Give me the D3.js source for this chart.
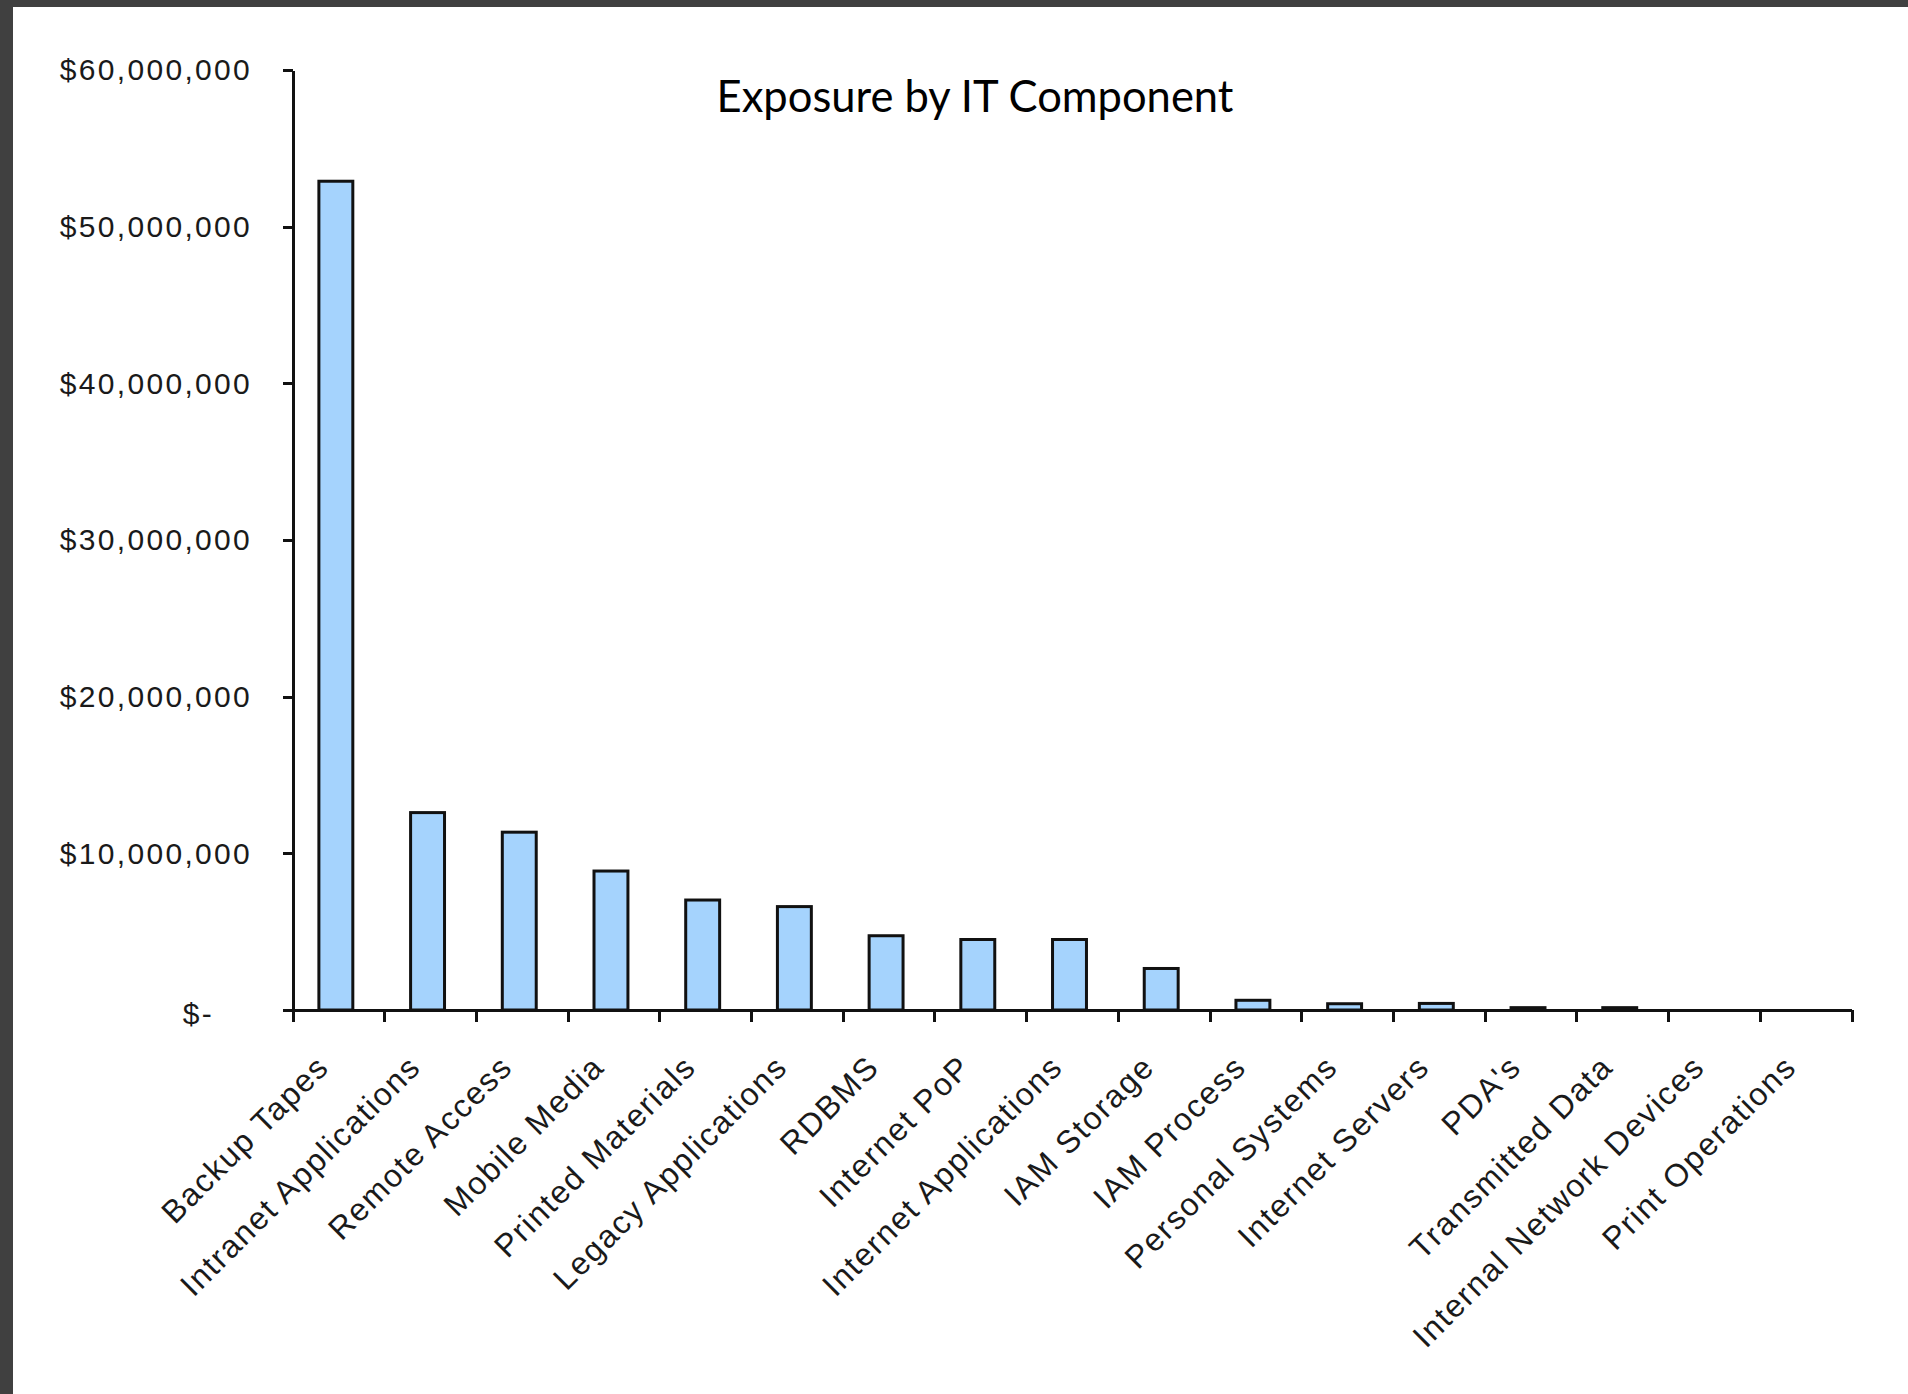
<!DOCTYPE html>
<html>
<head>
<meta charset="utf-8">
<script src="https://cdn.jsdelivr.net/npm/d3@7"></script>
<style>
  html, body { margin: 0; padding: 0; background: #fff; }
  #chart { width: 1908px; height: 1394px; }
  .axis path, .axis line { stroke: #111; stroke-width: 3px; shape-rendering: crispEdges; }
  .ytick text { font-family: "Liberation Sans", Arial, sans-serif; font-size: 30px; letter-spacing: 2.3px; fill: #1a1a1a; }
  .xlabel { font-family: "Liberation Sans", Arial, sans-serif; font-size: 32px; letter-spacing: 1.7px; fill: #1a1a1a; }
  .title { font-family: Lato, "Open Sans", sans-serif; font-size: 43.5px; fill: #000; }
</style>
</head>
<body>
<div id="chart"></div>
<script>
// categories along the x axis
var categories = ["Backup Tapes", "Intranet Applications", "Remote Access", "Mobile Media",
  "Printed Materials", "Legacy Applications", "RDBMS", "Internet PoP", "Internet Applications",
  "IAM Storage", "IAM Process", "Personal Systems", "Internet Servers", "PDA's",
  "Transmitted Data", "Internal Network Devices", "Print Operations"];

// exposure in dollars
var exposure = [52900000, 12600000, 11350000, 8870000, 7020000, 6600000, 4740000, 4500000,
  4500000, 2650000, 620000, 400000, 420000, 150000, 150000, 0, 0];

var yTicks = [0, 10000000, 20000000, 30000000, 40000000, 50000000, 60000000];

var W = 1908, H = 1394;
var margin = { left: 293, right: 56, top: 70, bottom: 384 };
var width = W - margin.left - margin.right,
    height = H - margin.top - margin.bottom;

var svg = d3.select("#chart").append("svg")
  .attr("width", W)
  .attr("height", H);

// dark frame at the top and left of the screenshot
svg.append("rect").attr("x", 0).attr("y", 0).attr("width", W).attr("height", 7).attr("fill", "#404040");
svg.append("rect").attr("x", 0).attr("y", 0).attr("width", 13).attr("height", H).attr("fill", "#404040");

var g = svg.append("g")
  .attr("transform", "translate(" + margin.left + "," + margin.top + ")");

var x = d3.scaleBand()
  .domain(categories)
  .range([0, width])
  .padding(0);

var y = d3.scaleLinear()
  .domain([0, 60000000])
  .range([height, 0]);

var money = d3.format(",");

// y axis
var yAxis = d3.axisLeft(y)
  .tickValues(yTicks)
  .tickSizeInner(10)
  .tickSizeOuter(0)
  .tickPadding(31)
  .tickFormat(function(d) { return d === 0 ? "$-" : "$" + money(d); });

var ya = g.append("g")
  .attr("class", "axis ytick")
  .call(yAxis);
ya.selectAll("text").attr("dy", "0.33em");
// accounting format pushes the dash left
ya.selectAll(".tick").filter(function(d) { return d === 0; })
  .select("text").attr("dx", -38).attr("dy", "0.45em");

// bars
var barW = x.bandwidth() * 0.37;
g.selectAll(".bar")
  .data(exposure)
  .enter().append("rect")
  .attr("class", "bar")
  .attr("x", function(d, i) { return x(categories[i]) + (x.bandwidth() - barW) / 2 - 3; })
  .attr("y", function(d) { return y(d); })
  .attr("width", barW)
  .attr("height", function(d) { return height - y(d); })
  .attr("fill", "#a5d3fd")
  .attr("stroke", "#111")
  .attr("stroke-width", 3)
  .style("display", function(d) { return d > 0 ? null : "none"; });

// x axis line with ticks on the category boundaries
var xa = g.append("g")
  .attr("class", "axis")
  .attr("transform", "translate(0," + height + ")");
xa.append("line")
  .attr("x1", -10).attr("x2", width)
  .attr("y1", 0).attr("y2", 0);
xa.selectAll(".xt")
  .data(d3.range(categories.length + 1))
  .enter().append("line")
  .attr("class", "xt")
  .attr("x1", function(i) { return i * x.step(); })
  .attr("x2", function(i) { return i * x.step(); })
  .attr("y1", 0).attr("y2", 12);

// rotated category labels
xa.selectAll(".xlabel")
  .data(categories)
  .enter().append("text")
  .attr("class", "xlabel")
  .attr("text-anchor", "end")
  .attr("transform", function(d) {
    return "translate(" + (x(d) + x.bandwidth() / 2 - 8) + ",59) rotate(-45)";
  })
  .text(function(d) { return d; });

// title
svg.append("text")
  .attr("class", "title")
  .attr("x", 975)
  .attr("y", 112)
  .attr("text-anchor", "middle")
  .text("Exposure by IT Component");
</script>
</body>
</html>
